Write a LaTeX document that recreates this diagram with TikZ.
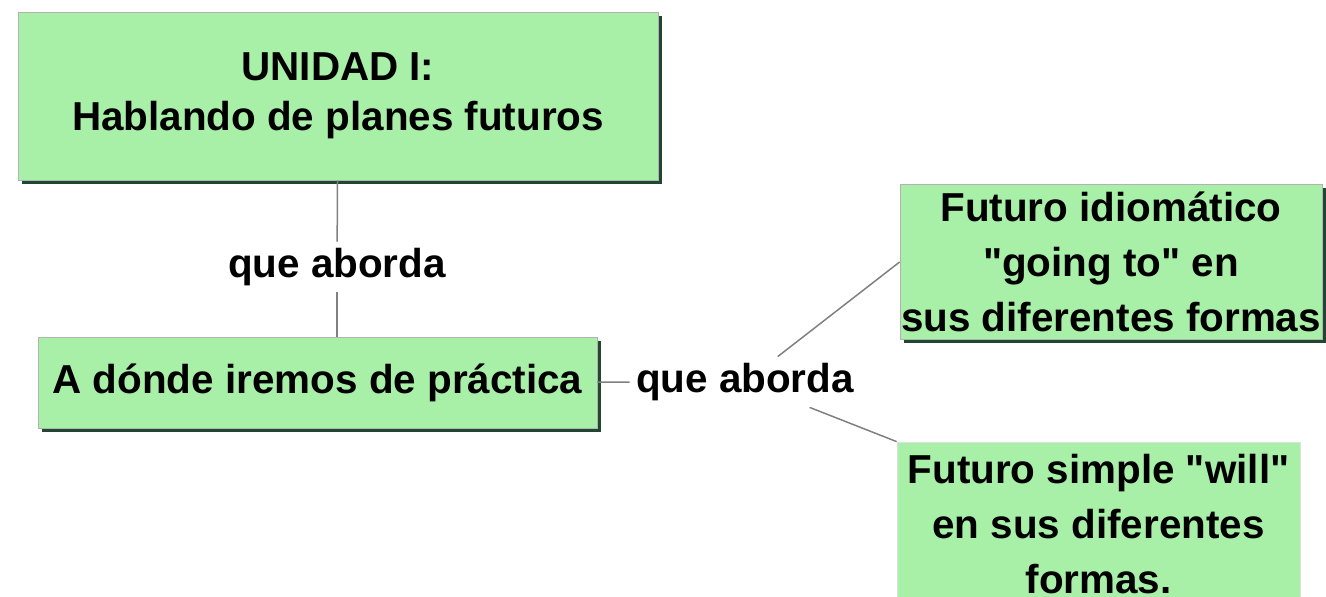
\documentclass[tikz,border=0pt]{standalone}
\usepackage{fontspec}
\setmainfont{Liberation Sans}
\usetikzlibrary{positioning, shadows}

\definecolor{boxgreen}{RGB}{168,240,168}
\definecolor{shadegreen}{RGB}{32,72,48}

\begin{document}
\begin{tikzpicture}[x=0.5pt, y=-0.5pt,
  concept/.style = {draw=gray!60, line width=0.4pt, fill=boxgreen, align=center,
    font=\fontsize{20.2}{25}\selectfont\bfseries, inner sep=0pt},
  shade/.style = {drop shadow={shadow xshift=2pt, shadow yshift=-2pt, fill=shadegreen, opacity=1}},
  link/.style = {font=\fontsize{20.2}{25}\selectfont\bfseries, fill=white,
    inner xsep=3pt, inner ysep=0pt, minimum height=25pt},
  edge/.style = {draw=gray, line width=0.75pt}]

  \useasboundingbox (0,0) rectangle (1326,597);

  \node[concept, shade, minimum width=320pt, minimum height=84pt] (unidad) at (338,96)
    {UNIDAD I:\\Hablando de planes futuros};
  \node[link] (qa1) at (337,267) {que aborda};
  \node[concept, shade, minimum width=279.5pt, minimum height=45.5pt] (donde) at (317.5,382.5)
    {A dónde iremos de práctica};
  \node[link] (qa2) at (745,382) {que aborda};

  \node[concept, shade, minimum width=211pt, minimum height=77.5pt,
    font=\fontsize{20.2}{27.5}\selectfont\bfseries] (idiom) at (1111,262)
    {Futuro idiomático\\\textquotedbl going to\textquotedbl{} en\\sus diferentes formas};
  \node[concept, draw=gray!25, minimum width=201.5pt, minimum height=82pt,
    font=\fontsize{20.2}{27.5}\selectfont\bfseries] (simple) at (1098.5,524)
    {Futuro simple \textquotedbl will\textquotedbl\\en sus diferentes\\formas.};

  \draw[edge] (unidad) -- (qa1);
  \draw[edge] (qa1) -- (qa1 |- donde.north);
  \draw[edge] (donde) -- (qa2);
  \draw[edge] (qa2) -- (idiom.west);
  \draw[edge] (qa2) -- (simple.north west);

  % redraw labels over the lines
  \node[link] at (qa1) {que aborda};
  \node[link] at (qa2) {que aborda};
\end{tikzpicture}
\end{document}
